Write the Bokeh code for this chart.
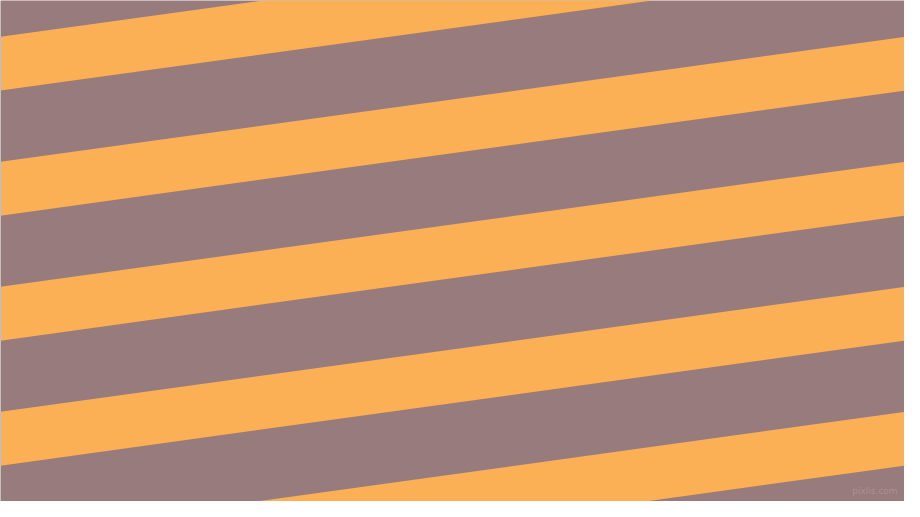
from bokeh.plotting import figure
from bokeh.models import Range1d, ColumnDataSource
from bokeh.core.properties import value
from bokeh.embed import file_html
from bokeh.resources import INLINE

# Stripe data (reference pixel space, 920 x 517, y downward)
band_top_left = [-91.5, 37.5, 166.5, 295.5, 424.5, 553.5]    # top edge y at x=0
band_top_right = [-220.5, -91.5, 37.5, 166.5, 295.5, 424.5]  # top edge y at x=920
band_height = [55.5, 55.5, 55.5, 55.5, 55.5, 55.5]
x_left = 0
x_right = 920

grey = "#987b7c"
orange = "#fcb055"

xs, ys = [], []
for tl, tr, h in zip(band_top_left, band_top_right, band_height):
    xs.append([x_left, x_right, x_right, x_left])
    ys.append([tl, tr, tr + h, tl + h])

p = figure(width=904, height=501, output_backend="svg", toolbar_location=None,
           x_range=Range1d(0, 920), y_range=Range1d(517, 0),
           min_border=0, background_fill_color=grey, border_fill_color=grey,
           outline_line_color=None)
p.axis.visible = False
p.grid.visible = False

p.patches(xs=xs, ys=ys, fill_color=orange, line_color=None)

wm = ColumnDataSource(dict(x=[913], y=[511], t=["pixlis.com"]))
p.text(x="x", y="y", text="t", source=wm, text_align="right", text_baseline="bottom",
       text_font=value("DejaVu Sans"), text_font_size="9px", text_color="#ad9596", text_alpha=0.9)

open("out.html", "w").write(file_html(p, INLINE))
